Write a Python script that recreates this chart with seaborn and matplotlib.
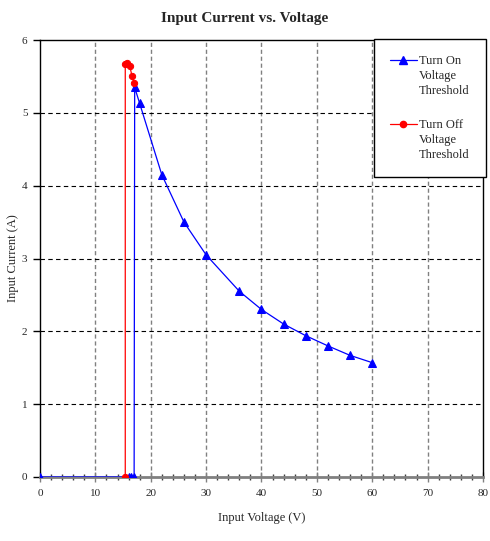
import pandas as pd
import seaborn as sns
import matplotlib.pyplot as plt
from matplotlib.lines import Line2D
from matplotlib.ticker import MultipleLocator

# data
on_v = [0, 16.0, 16.5, 17.0, 17.1, 18, 22, 26, 30, 36, 40, 44, 48, 52, 56, 60]
on_i = [0, 0, 0, 0, 5.35, 5.13, 4.15, 3.50, 3.05, 2.55, 2.30, 2.10, 1.94, 1.80, 1.67, 1.57]
off_v = [15.4, 15.4, 15.8, 16.2, 16.6, 17.0]
off_i = [0, 5.67, 5.68, 5.65, 5.51, 5.41]

on = pd.DataFrame({'v': on_v, 'i': on_i})
off = pd.DataFrame({'v': off_v, 'i': off_i})

sns.set_style('white')
plt.rcParams['font.family'] = ['Liberation Serif', 'DejaVu Serif']

fig = plt.figure(figsize=(4.9, 5.41), dpi=100)
ax = fig.add_axes([0.0816, 0.1183, 0.9041, 0.8077])

# grid drawn behind the data
for x in range(10, 80, 10):
    ax.axvline(x, color='#808080', linestyle=(0, (3, 2)), linewidth=1, zorder=0)
for y in range(1, 6):
    ax.axhline(y, color='black', linestyle=(0, (4, 3)), linewidth=0.8, zorder=0)

sns.lineplot(data=on, x='v', y='i', ax=ax, sort=False, estimator=None,
             color='#0000ff', linewidth=0.9, marker='^', markersize=5.5,
             markeredgecolor='#0000ff', legend=False, zorder=3)
sns.lineplot(data=off, x='v', y='i', ax=ax, sort=False, estimator=None,
             color='#ff0000', linewidth=0.9, marker='o', markersize=4.5,
             markeredgecolor='#ff0000', legend=False, zorder=3)

ax.set_xlim(0, 80)
ax.set_ylim(0, 6)
ax.xaxis.set_major_locator(MultipleLocator(10))
ax.xaxis.set_minor_locator(MultipleLocator(2))
ax.yaxis.set_major_locator(MultipleLocator(1))
ax.tick_params(axis='x', which='major', direction='inout', length=7, width=1, color='#808080',
               labelsize=8, pad=5, bottom=True)
ax.tick_params(axis='x', which='minor', direction='inout', length=5, width=1, color='#404040', bottom=True)
ax.tick_params(axis='y', which='major', direction='out', length=5, width=1, color='black',
               labelsize=8, pad=4, left=True)

for s in ['top', 'right', 'left']:
    ax.spines[s].set_color('black')
    ax.spines[s].set_linewidth(1)
ax.spines['bottom'].set_color('#808080')
ax.spines['bottom'].set_linewidth(2)

ax.set_xlabel('Input Voltage (V)', fontsize=9, labelpad=10)
ax.set_ylabel('Input Current (A)', fontsize=9, labelpad=2)
fig.suptitle('Input Current vs. Voltage', fontsize=11, fontweight='bold', y=0.978)

# legend: handle sits on the first line of each three-line label
blank = Line2D([], [], linestyle='none')
h_on = Line2D([], [], color='#0000ff', linewidth=0.9, marker='^', markersize=5.5)
h_off = Line2D([], [], color='#ff0000', linewidth=0.9, marker='o', markersize=4.5)
handles = [h_on, blank, blank, blank, h_off, blank, blank]
labels = ['Turn On', 'Voltage', 'Threshold', ' ', 'Turn Off', 'Voltage', 'Threshold']
leg = fig.legend(handles, labels, loc='upper left', bbox_to_anchor=(374 / 490, 1 - 39 / 541),
                 bbox_transform=fig.transFigure, fontsize=9, frameon=True, fancybox=False,
                 edgecolor='black', framealpha=1, handlelength=2.1, labelspacing=0.22,
                 borderpad=1.3, handletextpad=0.2, borderaxespad=0)
leg.get_frame().set_linewidth(1)
leg.get_texts()[3].set_fontsize(14)

fig.savefig('out.png', dpi=100)
